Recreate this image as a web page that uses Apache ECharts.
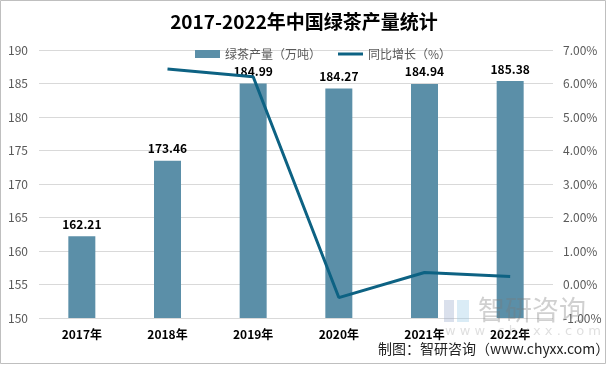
<!DOCTYPE html>
<html><head><meta charset="utf-8">
<script src="https://cdn.jsdelivr.net/npm/echarts@6/dist/echarts.min.js"></script>
<style>html,body{margin:0;padding:0;background:#fff}#c{width:608px;height:365px}</style>
</head><body><div id="c"></div>
<script>
var categories = ['2017年','2018年','2019年','2020年','2021年','2022年'];
var output = [162.21, 173.46, 184.99, 184.27, 184.94, 185.38];
var growth = [null, 6.43, 6.20, -0.39, 0.36, 0.24];
var leftTicks = {min:150, max:190, interval:5};
var rightTicks = {min:-1, max:7, interval:1};

var chart = echarts.init(document.getElementById('c'), null, {renderer:'canvas'});
var FONT = '"Noto Sans CJK SC","Noto Sans",sans-serif';
chart.setOption({
  animation:false,
  backgroundColor:'#fff',
  title:{text:'2017-2022年中国绿茶产量统计', left:'center', top:7,
    textStyle:{fontFamily:FONT, fontSize:19, fontWeight:'bold', color:'#000'}},
  legend:[
    {top:43, left:190, itemWidth:25, itemHeight:8, itemGap:4,
     textStyle:{fontFamily:FONT, fontSize:12, color:'#595959'},
     data:[{name:'绿茶产量（万吨）', icon:'rect'}]},
    {top:43, left:333, itemWidth:25, itemHeight:3, itemGap:4,
     textStyle:{fontFamily:FONT, fontSize:12, color:'#595959'},
     data:[{name:'同比增长（%）', icon:'rect'}]}
  ],
  grid:{left:39, right:55, top:50, bottom:47},
  xAxis:{type:'category', data:categories,
    axisLine:{show:false}, axisTick:{show:false},
    axisLabel:{fontFamily:FONT, fontSize:12, fontWeight:'bold', color:'#000', margin:10}},
  yAxis:[
    {type:'value', min:leftTicks.min, max:leftTicks.max, interval:leftTicks.interval,
     axisLine:{show:false}, axisTick:{show:false},
     axisLabel:{fontFamily:FONT, fontSize:12, color:'#595959', margin:11},
     splitLine:{lineStyle:{color:'#d9d9d9', width:1}}},
    {type:'value', min:rightTicks.min, max:rightTicks.max, interval:rightTicks.interval,
     axisLine:{show:false}, axisTick:{show:false},
     axisLabel:{fontFamily:FONT, fontSize:12, color:'#595959', margin:10,
       formatter:function(v){return v.toFixed(2)+'%';}},
     splitLine:{show:false}}
  ],
  series:[
    {name:'绿茶产量（万吨）', type:'bar', data:output, barWidth:27, yAxisIndex:0,
     itemStyle:{color:'#5b8fa8'},
     label:{show:true, position:'top', distance:6, fontFamily:FONT, fontSize:12, fontWeight:'bold', color:'#000',
       formatter:function(p){return p.value.toFixed(2);}}},
    {name:'同比增长（%）', type:'line', data:growth, yAxisIndex:1, showSymbol:false, symbol:'none',
     lineStyle:{color:'#0d6283', width:3}, itemStyle:{color:'#0d6283'}, z:5}
  ],
  graphic:[
    {type:'rect', shape:{x:0.5, y:0.5, width:605, height:363}, style:{fill:null, stroke:'#bfbfbf', lineWidth:1}, silent:true, z:-1},
    {type:'rect', shape:{x:444, y:300, width:10, height:22}, style:{fill:'rgba(150,165,200,0.35)'}, z:10},
    {type:'rect', shape:{x:457, y:300, width:12, height:22}, style:{fill:'rgba(150,200,230,0.35)'}, z:10},
    {type:'text', x:478, y:296, style:{text:'智研咨询', font:'27px "Noto Sans CJK SC"', fill:'rgba(120,120,120,0.35)'}, z:10},
    {type:'text', x:445, y:325, style:{text:'w w w . c h y x x . c o m', font:'13px "DejaVu Sans"', fill:'rgba(150,150,150,0.3)'}, z:10},
    {type:'text', x:378, y:342, style:{text:'制图：智研咨询（www.chyxx.com）', font:'14px "Noto Sans CJK SC"', fill:'#222'}, z:11}
  ]
});
</script></body></html>
